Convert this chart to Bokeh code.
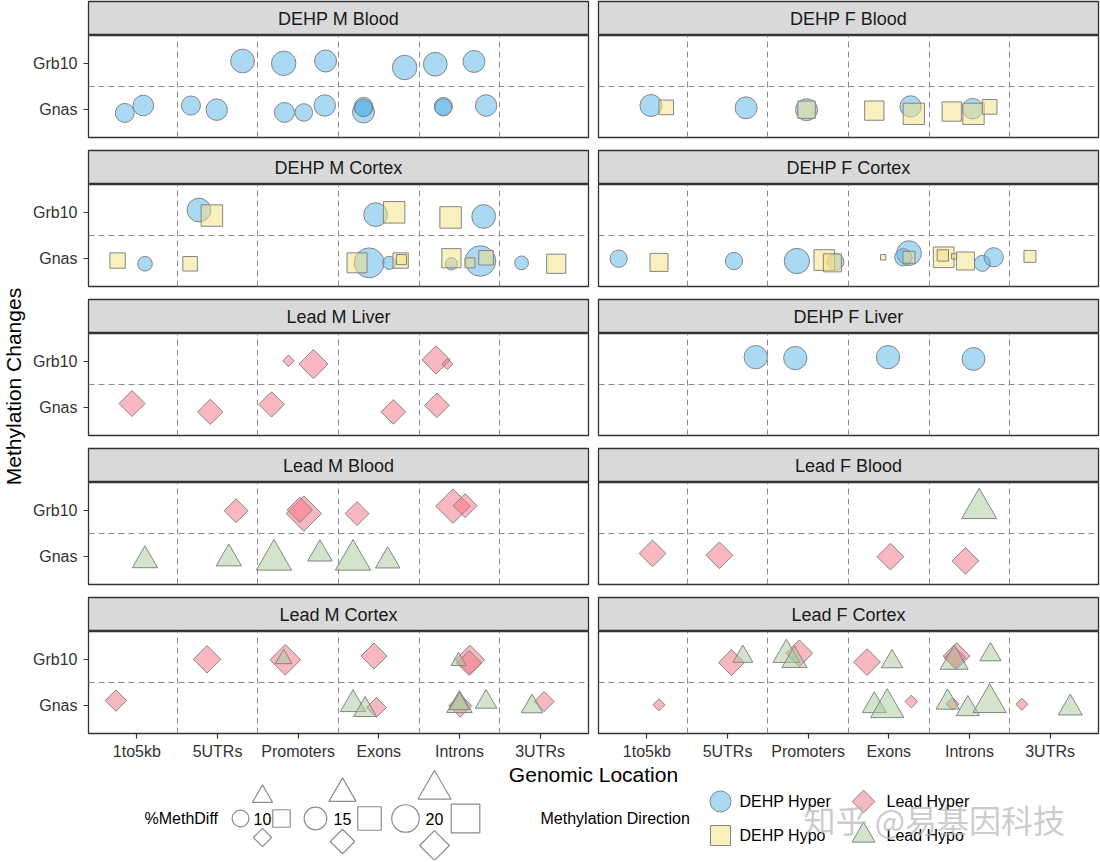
import math
from bokeh.plotting import figure
from bokeh.models import Range1d, LinearAxis, FixedTicker, Grid
from bokeh.layouts import row, column
from bokeh.embed import file_html
from bokeh.resources import INLINE
from bokeh.core.properties import value

FONT = "Liberation Sans"
CJK_FONT = "Noto Sans CJK SC"

# ---------------- data ----------------
LOCATIONS = ["1to5kb", "5UTRs", "Promoters", "Exons", "Introns", "3UTRs"]
GENES = ["Gnas", "Grb10"]
DIRECTIONS = ["DEHP Hyper", "DEHP Hypo", "Lead Hyper", "Lead Hypo"]
PANELS = ["DEHP M Blood", "DEHP F Blood", "DEHP M Cortex", "DEHP F Cortex",
          "Lead M Liver", "DEHP F Liver", "Lead M Blood", "Lead F Blood",
          "Lead M Cortex", "Lead F Cortex"]
PANEL_COUNTS = [19, 12, 21, 18, 9, 4, 12, 5, 17, 21]
SIZE_BREAKS = [10, 15, 20]
X_TITLE = "Genomic Location"
Y_TITLE = "Methylation Changes"
SIZE_TITLE = "%MethDiff"
DIR_TITLE = "Methylation Direction"
WATERMARK = "知乎 @易基因科技"

K1, U5, PR, EX, IN, U3 = LOCATIONS
GN, GR = GENES
DH, DO, LH, LO = DIRECTIONS

PT_LOC = [
    # DEHP M Blood
    U5, PR, PR, EX, IN, IN, K1, K1, U5, U5, PR, PR, PR, EX, EX, EX, IN, IN, IN,
    # DEHP F Blood
    K1, K1, U5, PR, PR, EX, EX, EX, IN, IN, IN, IN,
    # DEHP M Cortex
    U5, U5, EX, EX, IN, IN, K1, K1, U5, EX, EX, EX, EX, EX, IN, IN, IN, IN, IN, U3, U3,
    # DEHP F Cortex
    K1, K1, U5, PR, PR, PR, PR, EX, EX, EX, EX, IN, IN, IN, IN, IN, IN, U3,
    # Lead M Liver
    PR, PR, IN, IN, K1, U5, PR, EX, IN,
    # DEHP F Liver
    U5, PR, EX, IN,
    # Lead M Blood
    U5, PR, PR, EX, IN, IN, K1, U5, PR, PR, EX, EX,
    # Lead F Blood
    IN, K1, U5, EX, IN,
    # Lead M Cortex
    U5, PR, PR, EX, IN, IN, IN, K1, EX, EX, EX, IN, IN, IN, IN, U3, U3,
    # Lead F Cortex
    U5, U5, PR, PR, PR, EX, EX, IN, IN, IN, IN, K1, EX, EX, EX, IN, IN, IN, IN, U3, U3,
]
PT_GENE = (
    [GR] * 6 + [GN] * 13 +
    [GN] * 12 +
    [GR] * 6 + [GN] * 15 +
    [GN] * 18 +
    [GR] * 4 + [GN] * 5 +
    [GR] * 4 +
    [GR] * 6 + [GN] * 6 +
    [GR] * 1 + [GN] * 4 +
    [GR] * 7 + [GN] * 10 +
    [GR] * 11 + [GN] * 10
)
PT_DIR = (
    [DH] * 19 +
    [DH, DO, DH, DH, DO, DO, DH, DO, DO, DO, DH, DO] +
    [DH, DO, DH, DO, DO, DH, DO, DH, DO, DO, DH, DH, DO, DO, DO, DH, DO, DH, DO, DH, DO] +
    [DH, DO, DH, DH, DO, DO, DH, DO, DH, DH, DO, DO, DO, DO, DO, DH, DH, DO] +
    [LH] * 9 +
    [DH] * 4 +
    [LH] * 6 + [LO] * 6 +
    [LO, LH, LH, LH, LH] +
    [LH, LH, LO, LH, LO, LH, LH, LH, LO, LO, LH, LO, LH, LO, LO, LO, LH] +
    [LH, LO, LO, LO, LH, LH, LO, LO, LH, LH, LO, LH, LO, LO, LH, LO, LH, LO, LO, LH, LO]
)
PT_METHDIFF = [
    16.1, 16.8, 14.4, 16.8, 16.1, 14.4, 11.8, 13.2, 11.8, 13.9, 12.6, 10.6, 13.9, 14.4, 11.8, 10.6, 11.0, 10.2, 13.9,
    14.4, 9.8, 14.4, 14.4, 12.3, 14.2, 13.8, 16.4, 14.2, 16.4, 13.2, 9.8,
    16.1, 16.6, 16.1, 16.6, 16.6, 16.1, 10.4, 8.4, 9.7, 14.9, 22.7, 7.3, 10.4, 6.2, 14.1, 6.8, 6.2, 23.5, 9.7, 7.8, 14.1,
    10.4, 12.9, 10.4, 17.7, 15.7, 12.9, 9.9, 3.4, 17.1, 10.4, 7.6, 15.7, 7.1, 3.4, 12.9, 9.4, 12.0, 7.6,
    5.0, 15.6, 15.0, 4.7, 13.3, 12.8, 12.8, 12.3, 12.3,
    15.7, 15.7, 15.7, 15.2,
    11.8, 20.7, 12.8, 11.8, 20.0, 11.8, 11.6, 11.6, 18.6, 11.1, 18.6, 11.1,
    18.4, 13.8, 13.8, 13.8, 13.8,
    14.4, 16.8, 6.9, 13.3, 6.2, 15.6, 12.6, 10.2, 11.6, 10.2, 9.3, 11.6, 11.2, 8.6, 9.4, 9.4, 9.3,
    13.2, 8.5, 12.6, 11.4, 13.8, 13.8, 9.2, 13.3, 13.8, 10.2, 9.2, 5.2, 10.8, 17.1, 5.5, 10.4, 5.5, 10.4, 17.1, 5.2, 10.8,
]
PT_JIT_X = [
    .31, -.18, .34, .32, -.30, .18, -.15, .08, -.33, -.01, -.17, .07, .33, -.19, -.19, -.19, -.20, -.20, .33,
    .05, .24, .23, -.02, -.02, -.18, .27, .31, -.22, .05, .04, .25,
    -.23, -.07, -.04, .19, -.11, .30, -.24, .10, -.34, -.27, -.12, .13, .27, .28, -.10, -.10, .13, .26, .33, -.23, .20,
    -.35, .15, .08, -.14, .20, .30, .34, -.07, .25, .18, .25, -.32, -.33, -.19, -.05, .16, .30, -.25,
    -.12, .19, -.29, -.15, -.06, -.09, -.33, .18, -.28,
    .35, -.16, -.01, .05,
    .23, .07, .02, -.27, -.08, .07, .10, .14, -.30, .27, -.32, .11,
    .12, .07, -.10, .02, -.05,
    -.13, -.16, -.18, -.06, -.01, .13, .12, -.26, -.32, -.17, -.03, 0, .01, 0, .33, -.10, .05,
    .05, .19, -.27, -.17, -.11, -.27, .04, -.19, -.16, -.18, .26, .15, -.18, -.02, .28, -.27, -.21, -.02, .25, -.35, .25,
]
PT_JIT_Y = [
    .05, 0, .05, -.09, -.02, .04, -.07, .09, .09, 0, -.06, -.06, .09, -.05, .06, .04, .07, .05, .09,
    .09, .05, .04, 0, 0, -.02, .07, -.09, -.04, -.09, .02, .06,
    .05, -.07, -.05, 0, -.11, -.09, -.04, -.11, -.11, -.09, -.09, -.09, -.04, -.02, .01, -.11, -.09, -.05, .02, -.09, -.11,
    0, -.08, -.05, -.05, -.03, -.09, -.07, .03, .12, .03, .03, .03, .07, .05, -.05, -.10, .03, .05,
    .01, -.06, .03, -.06, .09, -.09, .07, -.09, .05,
    .09, .07, .09, .05,
    -.01, -.07, .01, -.07, .09, .10, -.08, -.04, -.07, .06, -.07, -.09,
    .04, .07, .03, 0, -.09,
    0, -.01, .01, .07, -.04, -.01, -.08, .11, .03, -.09, -.04, .01, 0, .04, .08, -.02, .09,
    -.07, .06, .10, -.02, .13, -.06, -.05, -.04, .07, .03, .10, .02, 0, -.05, .09, .07, .04, -.07, .06, .03, -.05,
]

# ---------------- styles ----------------
FILL = {DH: "#56B4E9", DO: "#F6E07E", LH: "#F4717F", LO: "#A7C99B"}
MARKER = {DH: "circle", DO: "square", LH: "square", LO: "triangle"}
ANGLE = {DH: 0.0, DO: 0.0, LH: math.pi / 4, LO: 0.0}
RATIO = {DH: 1.0, DO: 0.886, LH: 0.886, LO: 1.347}
LEG_RATIO = {DH: 1.0, DO: 1.04, LH: 1.08 / 1.414, LO: 1.2}
LINE = "#858585"
TXT = "#333333"


def diam(v):
    # size scale: %MethDiff -> circle diameter (px)
    return 8.17 * math.sqrt(v) - 9.03


FRAME_W, FRAME_H = 500, 102
STRIP_H = 35          # 1px top border + 34px strip
GAP = 12
XAX_H = 30
LAB_W = 30


def borders(col):
    return (58, 5) if col == 0 else (5, 2)


def make_strip(name, col):
    lb, rb = borders(col)
    s = figure(width=lb + FRAME_W + rb, height=STRIP_H, x_range=Range1d(0, 1), y_range=Range1d(0, 1),
               x_axis_type=None, y_axis_type=None, toolbar_location=None, output_backend="svg",
               min_border_left=lb, min_border_right=rb, min_border_top=1, min_border_bottom=0)
    s.background_fill_color = "#D9D9D9"
    s.border_fill_color = "white"
    s.outline_line_color = "#333333"
    s.outline_line_width = 1.3
    s.text(x=[0.5], y=[0.5], text=[name], text_align="center", text_baseline="middle",
           text_font=value(FONT), text_font_size="18px", text_color="#1A1A1A")
    return s


def make_panel(pi, col, last):
    lb, rb = borders(col)
    bb = XAX_H if last else GAP
    p = figure(width=lb + FRAME_W + rb, height=FRAME_H + bb,
               x_range=Range1d(0.4, 6.6), y_range=Range1d(0.4, 2.6),
               x_axis_type=None, y_axis_type=None, toolbar_location=None, output_backend="svg",
               min_border_left=lb, min_border_right=rb, min_border_top=0, min_border_bottom=bb)
    p.background_fill_color = "white"
    p.border_fill_color = "white"
    p.outline_line_color = "#333333"
    p.outline_line_width = 1.3
    p.add_layout(Grid(dimension=0, ticker=FixedTicker(ticks=[1.5, 2.5, 3.5, 4.5, 5.5]),
                      grid_line_color="#8c8c8c", grid_line_dash="6 4", grid_line_width=1))
    p.add_layout(Grid(dimension=1, ticker=FixedTicker(ticks=[1.5]),
                      grid_line_color="#8c8c8c", grid_line_dash="6 4", grid_line_width=1))
    if col == 0:
        ya = LinearAxis(ticker=FixedTicker(ticks=[1, 2]),
                        major_label_overrides={i + 1: g for i, g in enumerate(GENES)})
        ya.axis_line_color = None
        ya.major_tick_out = 5
        ya.major_tick_in = 0
        ya.major_tick_line_color = "#333333"
        ya.major_tick_line_width = 1.2
        ya.minor_tick_line_color = None
        ya.major_label_standoff = 6
        ya.major_label_text_font = FONT
        ya.major_label_text_font_size = "16px"
        ya.major_label_text_color = TXT
        p.add_layout(ya, "left")
    if last:
        xa = LinearAxis(ticker=FixedTicker(ticks=list(range(1, len(LOCATIONS) + 1))),
                        major_label_overrides={i + 1: l for i, l in enumerate(LOCATIONS)})
        xa.axis_line_color = None
        xa.major_tick_out = 5
        xa.major_tick_in = 0
        xa.major_tick_line_color = "#333333"
        xa.major_tick_line_width = 1.2
        xa.minor_tick_line_color = None
        xa.major_label_standoff = 4
        xa.major_label_text_font = FONT
        xa.major_label_text_font_size = "16px"
        xa.major_label_text_color = TXT
        p.add_layout(xa, "below")

    start = sum(PANEL_COUNTS[:pi])
    idx = range(start, start + PANEL_COUNTS[pi])
    for d in DIRECTIONS:
        sel = [i for i in idx if PT_DIR[i] == d]
        if not sel:
            continue
        xs = [LOCATIONS.index(PT_LOC[i]) + 1 + PT_JIT_X[i] for i in sel]
        ys = [GENES.index(PT_GENE[i]) + 1 + PT_JIT_Y[i] for i in sel]
        sz = [diam(PT_METHDIFF[i]) * RATIO[d] for i in sel]
        p.scatter(x=xs, y=ys, size=sz, marker=MARKER[d], angle=ANGLE[d],
                  fill_color=FILL[d], fill_alpha=0.5, line_color=LINE, line_width=1)
    return p


cols = [[], []]
nrows = len(PANELS) // 2
for pi, name in enumerate(PANELS):
    col = pi % 2
    r = pi // 2
    cols[col].append(make_strip(name, col))
    cols[col].append(make_panel(pi, col, r == nrows - 1))

GRID_H = nrows * STRIP_H + (nrows - 1) * (FRAME_H + GAP) + FRAME_H + XAX_H

lab = figure(width=LAB_W, height=GRID_H, x_range=Range1d(0, LAB_W), y_range=Range1d(0, GRID_H),
             x_axis_type=None, y_axis_type=None, toolbar_location=None, output_backend="svg",
             min_border=0)
lab.outline_line_color = None
lab.text(x=[13], y=[GRID_H - 386], text=[Y_TITLE], angle=math.pi / 2,
         text_align="center", text_baseline="middle", text_font=value(FONT),
         text_font_size="21px", text_color="black")

# bottom: x title + legends
BW, BH = 1100, 97
leg = figure(width=BW, height=BH, x_range=Range1d(0, BW), y_range=Range1d(BH, 0),
             x_axis_type=None, y_axis_type=None, toolbar_location=None, output_backend="svg",
             min_border=0)
leg.outline_line_color = None
leg.text(x=[593], y=[11], text=[X_TITLE], text_align="center", text_baseline="middle",
         text_font=value(FONT), text_font_size="21px", text_color="black")

CY = 55
leg.text(x=[144], y=[CY], text=[SIZE_TITLE], text_align="left", text_baseline="middle",
         text_font=value(FONT), text_font_size="16px", text_color="black")
lab_x = [262, 342, 434]
circ_x = [240, 315, 405]
sq_x = [281, 369, 465]
tri_dy = [-22, -25, -29]
dia_dy = [19, 23, 27]
for k, v in enumerate(SIZE_BREAKS):
    D = diam(v)
    leg.text(x=[lab_x[k]], y=[CY], text=[str(v)], text_align="center", text_baseline="middle",
             text_font=value(FONT), text_font_size="16px", text_color="black")
    for d, xx, yy in [(DH, circ_x[k], CY), (DO, sq_x[k], CY),
                      (LO, lab_x[k], CY + tri_dy[k]), (LH, lab_x[k], CY + dia_dy[k])]:
        leg.scatter(x=[xx], y=[yy], size=D * LEG_RATIO[d], marker=MARKER[d], angle=ANGLE[d],
                    fill_color=None, line_color="#8c8c8c", line_width=1.2)

leg.text(x=[540], y=[CY], text=[DIR_TITLE], text_align="left", text_baseline="middle",
         text_font=value(FONT), text_font_size="16px", text_color="black")
key_pos = {DH: (720, 38), DO: (720, 72), LH: (863, 38), LO: (863, 72)}
key_size = {DH: 21, DO: 20, LH: 16, LO: 23}
txt_x = {DH: 739, DO: 739, LH: 886, LO: 886}
for d in DIRECTIONS:
    kx, ky = key_pos[d]
    leg.scatter(x=[kx], y=[ky], size=key_size[d], marker=MARKER[d], angle=ANGLE[d],
                fill_color=FILL[d], fill_alpha=0.5, line_color=LINE, line_width=1)
    leg.text(x=[txt_x[d]], y=[ky], text=[d], text_align="left", text_baseline="middle",
             text_font=value(FONT), text_font_size="16px", text_color="black")

leg.text(x=[803], y=[CY], text=[WATERMARK], text_align="left", text_baseline="middle",
         text_font=value(CJK_FONT), text_font_size="32px", text_color="#b5b5b5", text_alpha=0.7)

layout = column(row(lab, column(*cols[0]), column(*cols[1])), leg)
with open("out.html", "w") as f:
    f.write(file_html(layout, INLINE))
